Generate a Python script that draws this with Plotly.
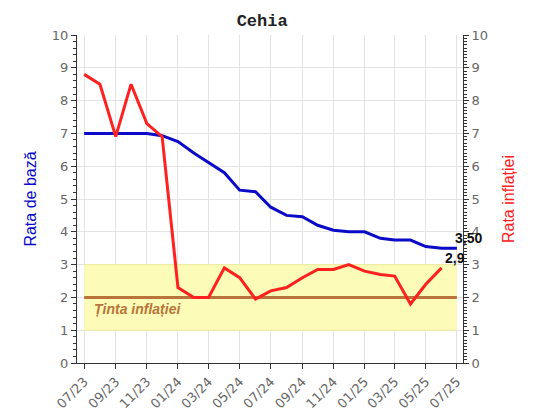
import plotly.graph_objects as go

months = ["2023-07-01", "2023-08-01", "2023-09-01", "2023-10-01", "2023-11-01", "2023-12-01",
          "2024-01-01", "2024-02-01", "2024-03-01", "2024-04-01", "2024-05-01", "2024-06-01",
          "2024-07-01", "2024-08-01", "2024-09-01", "2024-10-01", "2024-11-01", "2024-12-01",
          "2025-01-01", "2025-02-01", "2025-03-01", "2025-04-01", "2025-05-01", "2025-06-01",
          "2025-07-01"]
base_rate = [7.0, 7.0, 7.0, 7.0, 7.0, 6.93, 6.75, 6.4, 6.1, 5.8, 5.27, 5.22,
             4.75, 4.5, 4.46, 4.2, 4.05, 4.0, 4.0, 3.8, 3.75, 3.75, 3.55, 3.5, 3.5]
inflation = [8.8, 8.5, 6.9, 8.5, 7.3, 6.9, 2.3, 2.0, 2.0, 2.9, 2.6, 1.95,
             2.2, 2.3, 2.6, 2.85, 2.85, 3.0, 2.8, 2.7, 2.65, 1.8, 2.4, 2.9]
target = 2.0
target_low, target_high = 1.0, 3.0
base_label = "3,50"
infl_label = "2,9"

band_x = [months[0], months[-1]]
tick_font = dict(family="DejaVu Sans", size=13, color="#666666")

fig = go.Figure()
fig.add_trace(go.Scatter(x=band_x, y=[target_low, target_low], mode="lines",
                         line=dict(color="#eeeaa0", width=1), hoverinfo="skip", showlegend=False))
fig.add_trace(go.Scatter(x=band_x, y=[target_high, target_high], mode="lines", fill="tonexty",
                         fillcolor="#fdfbb8", line=dict(color="#eeeaa0", width=1),
                         hoverinfo="skip", showlegend=False))
fig.add_trace(go.Scatter(x=band_x, y=[target, target], mode="lines",
                         line=dict(color="#b8743a", width=3), showlegend=False))
fig.add_trace(go.Scatter(x=months, y=base_rate, mode="lines",
                         line=dict(color="#0a0ac8", width=3), showlegend=False))
fig.add_trace(go.Scatter(x=months[:len(inflation)], y=inflation, mode="lines", yaxis="y2",
                         line=dict(color="#ff2020", width=3), showlegend=False))

fig.add_annotation(x=months[-1], y=base_rate[-1], text="<b>" + base_label + "</b>",
                   showarrow=False, xanchor="left", yanchor="bottom", xshift=-4, yshift=0,
                   font=dict(family="Liberation Sans", size=14, color="#111111"))
fig.add_annotation(x=months[len(inflation) - 1], y=inflation[-1], text="<b>" + infl_label + "</b>",
                   showarrow=False, xanchor="left", yanchor="bottom", xshift=1, yshift=0,
                   font=dict(family="Liberation Sans", size=14, color="#111111"))
fig.add_annotation(x=months[1], y=target, text="<b><i>Ținta inflației</i></b>",
                   showarrow=False, xanchor="left", yanchor="top", xshift=-8, yshift=-2,
                   font=dict(family="Liberation Sans", size=14, color="#b8743a"))

fig.update_layout(
    width=535, height=414,
    margin=dict(l=77, r=72, t=35, b=51),
    paper_bgcolor="white", plot_bgcolor="white",
    title=dict(text="<b>Cehia</b>", x=0.49, xanchor="center", xref="container",
               y=0.952, yanchor="middle", yref="container",
               font=dict(family="Liberation Mono", size=17, color="#222222")),
    xaxis=dict(type="date", range=["2023-06-17", "2025-07-13"], tick0="2023-07-01", dtick="M2",
               tickformat="%m/%y", tickangle=-45, tickfont=tick_font,
               showgrid=True, gridcolor="#e3e3e3", gridwidth=1, automargin=False,
               showline=True, linecolor="#333333", linewidth=1,
               ticks="outside", ticklen=5, tickcolor="#333333", zeroline=False),
    yaxis=dict(range=[0, 10], dtick=1, tickfont=tick_font,
               showgrid=True, gridcolor="#e3e3e3", gridwidth=1, automargin=False,
               showline=True, linecolor="#333333", linewidth=1,
               ticks="outside", ticklen=5, tickcolor="#333333", zeroline=False,
               minor=dict(dtick=0.2, ticks="outside", ticklen=3, tickcolor="#333333", showgrid=False),
               title=dict(text="Rata de bază", font=dict(family="Liberation Sans", size=16, color="#0a0ac8"),
                          standoff=11)),
    yaxis2=dict(range=[0, 10], dtick=1, tickfont=tick_font,
                overlaying="y", side="right", automargin=False,
                showgrid=False, showline=True, linecolor="#333333", linewidth=1,
                ticks="outside", ticklen=5, tickcolor="#333333", zeroline=False,
                minor=dict(dtick=0.1, ticks="outside", ticklen=3, tickcolor="#333333", showgrid=False),
                title=dict(text="Rata inflației", font=dict(family="Liberation Sans", size=16, color="#ff2020"),
                           standoff=15)),
)

fig.write_html("out.html", post_script="document.body.style.margin='0';",
               config={"displayModeBar": False})
